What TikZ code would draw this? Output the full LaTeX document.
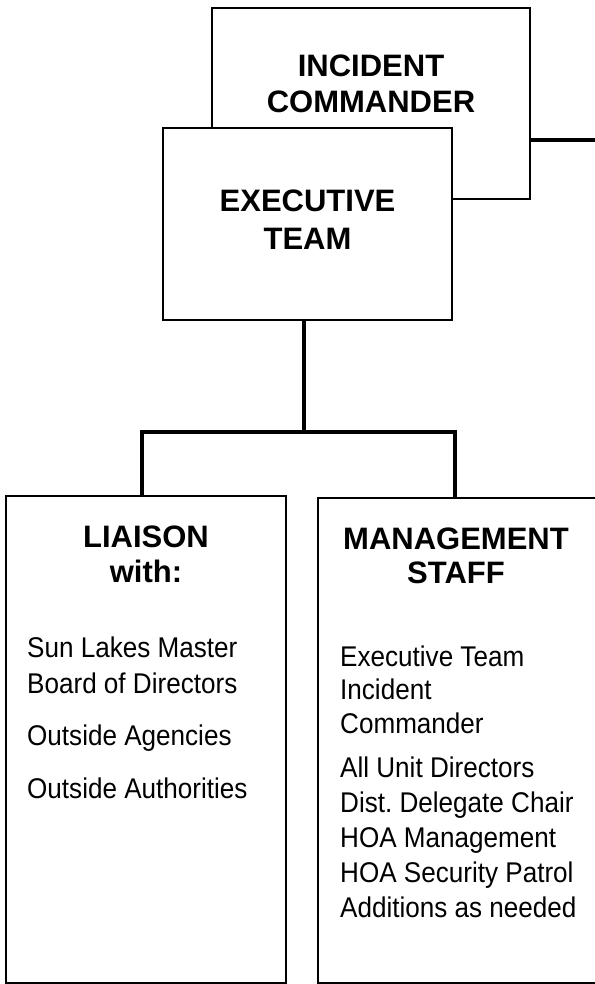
\documentclass[tikz,border=0pt]{standalone}
\usepackage{fontspec}
\setmainfont{Liberation Sans}
\newfontfamily\listfont[FakeStretch=0.915]{Liberation Sans}
\usetikzlibrary{positioning}

\begin{document}
\begin{tikzpicture}[x=1pt, y=-1pt]
        % Définition des styles
        \tikzset{box/.style = {draw, line width=1.8pt, fill=white, inner sep=0pt}}
        \tikzset{link/.style = {line width=3.3pt}}
        \tikzset{title/.style = {anchor=base, inner sep=0pt, font=\bfseries\fontsize{31}{36}\selectfont}}
        \tikzset{item/.style = {anchor=base west, inner sep=0pt, font=\listfont\fontsize{28.5}{33}\selectfont}}

        \useasboundingbox (0,0) rectangle (594,984);

        % Boîtes du haut
        \node [box, minimum width=318pt, minimum height=191pt] (ic) at (371,103.5) {};
        \node [title] (icA) at (371,77) {INCIDENT};
        \node [title] (icB) at (371,113) {COMMANDER};

        \node [box, minimum width=289pt, minimum height=192pt] (et) at (307.5,224) {};
        \node [title] (etA) at (307.5,212) {EXECUTIVE};
        \node [title] (etB) at (307.5,249) {TEAM};

        % Boîtes du bas
        \node [box, minimum width=280pt, minimum height=487pt] (liaison) at (146,739.5) {};
        \node [box, minimum width=290pt, minimum height=485pt] (mgmt) at (463,740.5) {};

        % Connexions
        \coordinate (icend) at (600,140);
        \coordinate (busmid) at (304,432);
        \draw [link] (ic.east |- icend) -- (icend);
        \draw [link] (et.south -| busmid) -- (busmid);
        \draw [link] ([xshift=-4pt]liaison.north) |- (busmid);
        \draw [link] (busmid) -| ([xshift=-8pt]mgmt.north);

        % Liaison
        \node [title] (liA) at (146,547) {LIAISON};
        \node [title] (liB) at (146,582) {with:};
        \node [item] (li1) at (27,657) {Sun Lakes Master};
        \node [item] (li2) at (27,693) {Board of Directors};
        \node [item] (li3) at (27,745) {Outside Agencies};
        \node [item] (li4) at (27,798) {Outside Authorities};

        % Management staff
        \node [title] (msA) at (456,549) {MANAGEMENT};
        \node [title] (msB) at (456,583) {STAFF};
        \node [item] (ms1) at (340,666) {Executive Team};
        \node [item] (ms2) at (340,699) {Incident};
        \node [item] (ms3) at (340,733) {Commander};
        \node [item] (ms4) at (340,777) {All Unit Directors};
        \node [item] (ms5) at (340,812) {Dist.\ Delegate Chair};
        \node [item] (ms6) at (340,847) {HOA Management};
        \node [item] (ms7) at (340,882) {HOA Security Patrol};
        \node [item] (ms8) at (340,917) {Additions as needed};
\end{tikzpicture}
\end{document}
